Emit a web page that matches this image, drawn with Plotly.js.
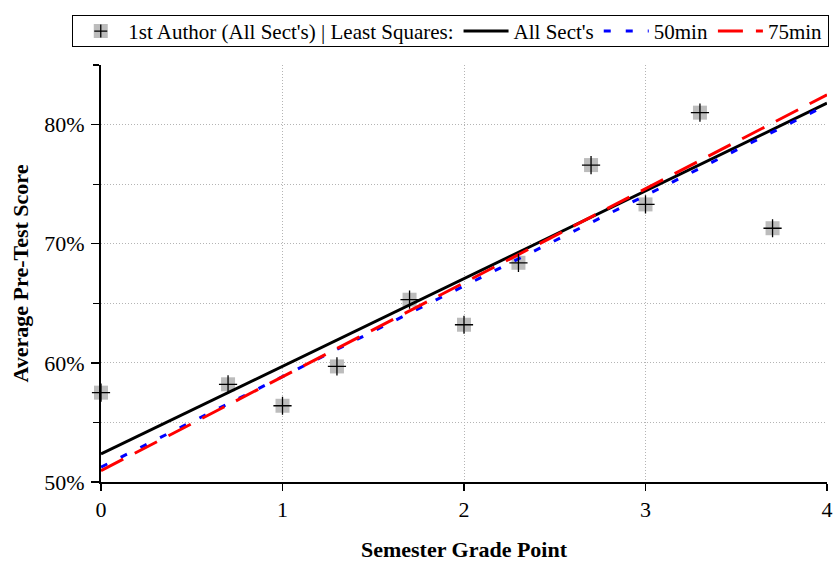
<!DOCTYPE html>
<html>
<head>
<meta charset="utf-8">
<script src="https://cdn.plot.ly/plotly-3.0.1.min.js"></script>
<style>
  html, body { margin: 0; padding: 0; background: #fff; }
  #chart { width: 836px; height: 564px; }
</style>
</head>
<body>
<div id="chart"></div>
<script>
// Semester grade point vs. average pre-test score (%)
const gradePoints = [0, 0.7, 1.0, 1.3, 1.7, 2.0, 2.3, 2.7, 3.0, 3.3, 3.7];
const preTestScores = [57.5, 58.2, 56.4, 59.7, 65.3, 63.2, 68.4, 76.6, 73.3, 81.0, 71.3];

// Least-squares fit lines, evaluated at the ends of the grade range
const fitX = [0, 4];
const fitAllSects = [52.35, 81.8];
const fit50min = [51.25, 81.65];
const fit75min = [50.95, 82.5];

const yTickVals = [50, 60, 70, 80];
const yTickText = ['50%', '60%', '70%', '80%'];

const serif = '"Liberation Serif"';
const gridStyle = { gridcolor: '#b4b4b4', griddash: '1px,2px', gridwidth: 1 };

const traces = [
  {
    x: gradePoints, y: preTestScores,
    type: 'scatter', mode: 'markers',
    name: "1st Author (All Sect's) | Least Squares:",
    marker: { symbol: 'square', size: 14, color: '#bcbcbc', line: { width: 0 } },
    cliponaxis: false
  },
  {
    x: fitX, y: fitAllSects,
    type: 'scatter', mode: 'lines', name: "All Sect's",
    line: { color: '#000000', width: 3 }
  },
  {
    x: fitX, y: fit50min,
    type: 'scatter', mode: 'lines', name: '50min',
    line: { color: '#0000ff', width: 3, dash: '7px,15px' }
  },
  {
    x: fitX, y: fit75min,
    type: 'scatter', mode: 'lines', name: '75min',
    line: { color: '#ff0000', width: 3, dash: '25px,13px' }
  },
  {
    // thin crosses drawn over the grey squares
    x: gradePoints, y: preTestScores,
    type: 'scatter', mode: 'markers', showlegend: false, hoverinfo: 'skip',
    marker: { symbol: 'cross-thin', size: 13, color: '#000', line: { color: '#000', width: 1.3 } },
    cliponaxis: false
  }
];

const layout = {
  width: 836, height: 564,
  margin: { l: 101, r: 9, t: 65, b: 82 },
  paper_bgcolor: '#fff', plot_bgcolor: '#fff',
  font: { family: serif, color: '#000', size: 21 },
  showlegend: true,
  legend: {
    orientation: 'h',
    x: -0.04, xanchor: 'left',
    y: 1.12, yanchor: 'top',
    bordercolor: '#000', borderwidth: 1.3,
    bgcolor: '#fff',
    font: { family: serif, size: 21, color: '#000' },
    itemwidth: 45,
    tracegroupgap: 0
  },
  xaxis: Object.assign({
    range: [0, 4],
    dtick: 1, tick0: 0,
    showline: true, linecolor: '#000', linewidth: 2,
    ticks: 'outside', ticklen: 7, tickwidth: 1.5, tickcolor: '#000',
    showgrid: true,
    zeroline: false,
    tickfont: { family: serif, size: 22, color: '#000' },
    title: { text: '<b>Semester Grade Point</b>', font: { family: serif, size: 22, color: '#000' }, standoff: 20 }
  }, gridStyle),
  yaxis: Object.assign({
    range: [50, 85],
    tickvals: yTickVals, ticktext: yTickText,
    showline: true, linecolor: '#000', linewidth: 2,
    ticks: 'outside', ticklen: 8, tickwidth: 1.5, tickcolor: '#000',
    ticklabelstandoff: 2,
    showgrid: true,
    zeroline: false,
    minor: Object.assign({ dtick: 5, tick0: 50, ticks: 'outside', ticklen: 6, tickwidth: 1.2, tickcolor: '#000',
             showgrid: true }, gridStyle),
    tickfont: { family: serif, size: 22, color: '#000' },
    title: { text: '<b>Average Pre-Test Score</b>', font: { family: serif, size: 22, color: '#000' }, standoff: 10 }
  }, gridStyle)
};

Plotly.newPlot('chart', traces, layout, { displayModeBar: false, staticPlot: true }).then(function (gd) {
  const ns = 'http://www.w3.org/2000/svg';
  // put the thin cross on the grey square of the first legend entry
  const pt = gd.querySelector('.legend .traces .legendpoints path.scatterpts');
  if (pt) {
    const cross = document.createElementNS(ns, 'path');
    cross.setAttribute('d', 'M-6.5,0H6.5M0,-6.5V6.5');
    cross.setAttribute('transform', pt.getAttribute('transform') || '');
    cross.setAttribute('style', 'stroke:#000;stroke-width:1.3px;fill:none');
    pt.parentNode.appendChild(cross);
  }
  // tighten the legend box to a single compact row
  const bg = gd.querySelector('.legend rect.bg');
  const box = gd.querySelector('.legend .scrollbox');
  if (bg && box) {
    const h = parseFloat(bg.getAttribute('height'));
    const target = 31;
    if (h > target) {
      bg.setAttribute('height', target);
      const shift = (h - target) / 2;
      const tr = box.getAttribute('transform') || '';
      box.setAttribute('transform', tr + ' translate(0,' + (-shift) + ')');
    }
  }
});
</script>
</body>
</html>
